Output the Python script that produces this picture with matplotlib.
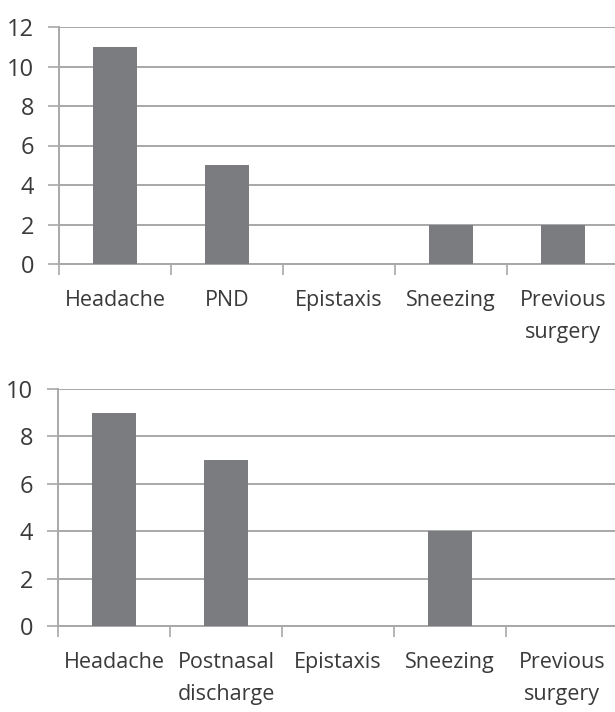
import matplotlib
matplotlib.use("Agg")
import matplotlib.pyplot as plt

plt.rcParams["font.family"] = ["Open Sans", "DejaVu Sans"]

# ---------------------------------------------------------------------------
# data
# ---------------------------------------------------------------------------
top_labels    = ["Headache", "PND", "Epistaxis", "Sneezing", "Previous\nsurgery"]
top_values    = [11, 5, 0, 2, 2]
top_ticks     = [0, 2, 4, 6, 8, 10, 12]

bottom_labels = ["Headache", "Postnasal\ndischarge", "Epistaxis", "Sneezing", "Previous\nsurgery"]
bottom_values = [9, 7, 0, 4, 0]
bottom_ticks  = [0, 2, 4, 6, 8, 10]

BAR   = "#7b7c7f"
GRID  = "#a8a8a8"
TEXT  = "#3a3a3a"

fig = plt.figure(figsize=(6.15, 7.12), dpi=100)


def draw(ax, labels, values, ticks):
    n = len(labels)
    xs = list(range(n))
    ax.bar(xs, values, width=0.385, color=BAR, zorder=3)
    ax.set_xlim(-0.5, n - 0.5)
    ax.set_ylim(ticks[0], ticks[-1])
    ax.set_yticks(ticks)
    ax.yaxis.grid(True, color=GRID, linewidth=1.4, zorder=0)
    for s in ["top", "right"]:
        ax.spines[s].set_visible(False)
    for s in ["left", "bottom"]:
        ax.spines[s].set_color(GRID)
        ax.spines[s].set_linewidth(1.4)
    # category labels between boundary ticks
    ax.set_xticks([x - 0.5 for x in xs] + [n - 0.5])
    ax.set_xticklabels([])
    ax.set_xticks(xs, minor=True)
    ax.set_xticklabels(labels, minor=True, fontsize=15.5, color=TEXT,
                       linespacing=1.65, va="top")
    ax.tick_params(axis="x", which="major", length=8, width=1.2, color=GRID)
    ax.tick_params(axis="x", which="minor", length=0, pad=19)
    ax.tick_params(axis="y", length=8, width=1.2, color=GRID, pad=10,
                   labelsize=17, labelcolor=TEXT)


ax1 = fig.add_axes([59 / 615, 1 - 264 / 712, 560 / 615, 237 / 712])
draw(ax1, top_labels, top_values, top_ticks)

ax2 = fig.add_axes([58 / 615, 1 - 626 / 712, 560 / 615, 237 / 712])
draw(ax2, bottom_labels, bottom_values, bottom_ticks)

fig.savefig("out.png", dpi=100)
